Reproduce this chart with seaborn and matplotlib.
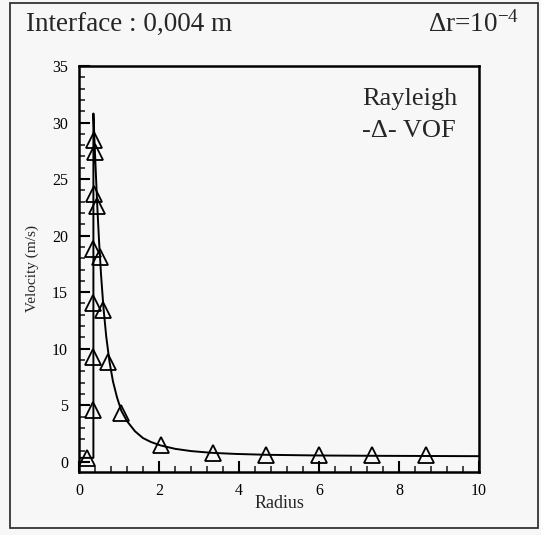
import matplotlib
matplotlib.use("Agg")
import matplotlib.pyplot as plt
import seaborn as sns
import pandas as pd
from matplotlib.patches import Rectangle
from matplotlib.ticker import MultipleLocator

# Rayleigh analytical curve
ray_r = [0.0, 0.36, 0.36, 0.38, 0.40, 0.43, 0.46, 0.50, 0.55, 0.61, 0.68, 0.76, 0.85, 0.95,
         1.06, 1.2, 1.4, 1.6, 1.8, 2.04, 2.4, 2.8, 3.3, 3.9, 4.7, 6.0, 7.5, 10.0]
ray_v = [0.35, 0.35, 30.8, 29.0, 27.3, 24.8, 22.4, 19.6, 16.6, 13.7, 11.1, 8.9, 7.1, 5.7,
         4.5, 3.6, 2.7, 2.1, 1.75, 1.45, 1.15, 0.95, 0.8, 0.7, 0.62, 0.56, 0.53, 0.5]

# VOF simulation points
vof_r = [0.21, 0.36, 0.36, 0.36, 0.36, 0.375, 0.375, 0.40, 0.46, 0.53, 0.61, 0.73,
         1.06, 2.04, 3.35, 4.68, 6.0, 7.33, 8.67]
vof_v = [0.3, 4.6, 9.3, 14.0, 18.8, 23.7, 28.5, 27.4, 22.6, 18.1, 13.4, 8.8,
         4.3, 1.5, 0.8, 0.63, 0.57, 0.57, 0.57]

x_ticks = [0, 2, 4, 6, 8, 10]
y_ticks = [0, 5, 10, 15, 20, 25, 30, 35]

title_left = "Interface : 0,004 m"
title_right = r"$\Delta$r=10$^{\mathregular{-4}}$"
legend_lines = ["Rayleigh", "-\u0394- VOF"]

sns.set_theme(style="white")
plt.rcParams["font.family"] = ["Liberation Serif", "DejaVu Serif"]
plt.rcParams["mathtext.fontset"] = "stix"
plt.rcParams["mathtext.default"] = "regular"

bg = "#f7f7f7"
fig = plt.figure(figsize=(5.41, 5.35), dpi=100, facecolor=bg)
ax = fig.add_axes([79 / 541, 1 - 472 / 535, 400 / 541, 406 / 535])
ax.set_facecolor(bg)

ray_df = pd.DataFrame({"r": ray_r, "v": ray_v})
vof_df = pd.DataFrame({"r": vof_r, "v": vof_v})

sns.lineplot(data=ray_df, x="r", y="v", sort=False, estimator=None, color="black",
             linewidth=1.4, ax=ax)
ax.plot(vof_df["r"], vof_df["v"], linestyle="none", marker="^", markersize=11,
        markerfacecolor="none", markeredgecolor="black", markeredgewidth=1.3)

ax.set_xlim(0, 10)
ax.set_ylim(-0.9, 35)
ax.set_xticks(x_ticks)
ax.set_yticks(y_ticks)
ax.xaxis.set_minor_locator(MultipleLocator(0.4))
ax.yaxis.set_minor_locator(MultipleLocator(1))
ax.tick_params(which="major", direction="in", length=8, width=1.5, labelsize=11.5, pad=8,
               bottom=True, left=True, top=False, right=False, colors="black")
ax.tick_params(which="minor", direction="in", length=4.5, width=1.2,
               bottom=True, left=True, top=False, right=False)
for s in ax.spines.values():
    s.set_linewidth(1.8)
    s.set_color("black")

ax.set_xlabel("Radius", fontsize=13, labelpad=-3)
ax.set_ylabel("Velocity (m/s)", fontsize=11, labelpad=9)

ax.text(362 / 541, 1 - 105 / 535, legend_lines[0], transform=fig.transFigure,
        fontsize=19, ha="left", va="baseline")
ax.text(362 / 541, 1 - 137 / 535, legend_lines[1], transform=fig.transFigure,
        fontsize=19, ha="left", va="baseline")

fig.text(26 / 541, 1 - 32 / 535, title_left, fontsize=19.5, ha="left", va="baseline")
fig.text(519 / 541, 1 - 32 / 535, title_right, fontsize=19.5, ha="right", va="baseline")

fig.patches.append(Rectangle((10 / 541, 1 - 528 / 535), 528 / 541, 525 / 535,
                             transform=fig.transFigure, fill=False,
                             edgecolor="#333333", linewidth=1.3))

fig.savefig("out.png", dpi=100, facecolor=bg)
